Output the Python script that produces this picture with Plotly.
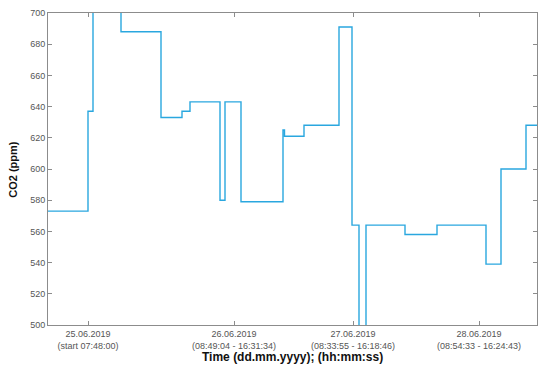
import plotly.graph_objects as go

# sample position (relative time units) and CO2 values (ppm)
time_pos = [0, 40, 45, 73, 113, 134, 142, 172, 177, 193, 235, 236.5, 256, 291,
            304, 311, 318, 357, 389, 438, 453, 478, 489]
co2_ppm = [573, 637, 720, 688, 633, 637, 643, 580, 643, 579, 625, 621, 628, 691,
           564, 495, 564, 558, 564, 539, 600, 628, 628]

tick_pos = [40, 186, 305, 431]
tick_labels = ["25.06.2019<br>(start 07:48:00)",
               "26.06.2019<br>(08:49:04 - 16:31:34)",
               "27.06.2019<br>(08:33:55 - 16:18:46)",
               "28.06.2019<br>(08:54:33 - 16:24:43)"]
y_ticks = [500, 520, 540, 560, 580, 600, 620, 640, 660, 680, 700]

fig = go.Figure(go.Scatter(
    x=time_pos, y=co2_ppm, mode="lines", line_shape="hv",
    line=dict(color="#2aa7df", width=1.4), showlegend=False))

axis_common = dict(showline=True, linecolor="#8c8c8c", linewidth=1, mirror="ticks",
                   ticks="inside", ticklen=4, tickcolor="#8c8c8c", showgrid=False,
                   zeroline=False, automargin=False,
                   tickfont=dict(family="Liberation Sans, Arial, sans-serif", size=9, color="#555555"))

fig.update_xaxes(range=[0, 489], tickmode="array", tickvals=tick_pos, ticktext=tick_labels,
                 **axis_common)
fig.update_yaxes(range=[500, 700], tickmode="array", tickvals=y_ticks, **axis_common)

# page body has an 8px margin, so the figure is sized/offset to compensate
fig.update_layout(
    width=542, height=359,
    margin=dict(l=40, r=13, t=5, b=42),
    paper_bgcolor="white", plot_bgcolor="white",
    annotations=[
        dict(text="<b>Time (dd.mm.yyyy); (hh:mm:ss)</b>", xref="paper", yref="paper",
             x=0.5, y=-0.074, xanchor="center", yanchor="top", showarrow=False,
             font=dict(family="Liberation Sans, Arial, sans-serif", size=12, color="#111111")),
        dict(text="<b>CO2 (ppm)</b>", xref="paper", yref="paper", textangle=-90,
             x=-0.072, y=0.5, xanchor="center", yanchor="middle", showarrow=False,
             font=dict(family="Liberation Sans, Arial, sans-serif", size=11, color="#111111")),
    ],
)

fig.write_html("out.html")
